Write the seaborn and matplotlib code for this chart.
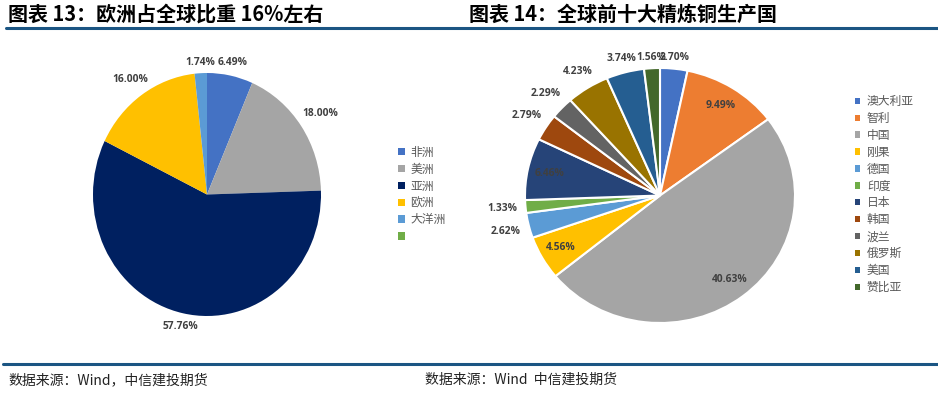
import numpy as np
import pandas as pd
import matplotlib
matplotlib.use("Agg")
import matplotlib.pyplot as plt
import seaborn as sns
from matplotlib.patches import Patch
from matplotlib.lines import Line2D

# ---------------- data ----------------
regions = ["非洲", "美洲", "亚洲", "欧洲", "大洋洲", ""]
region_share = [6.49, 18.00, 57.76, 16.00, 1.74, 0.0]
region_colors = ["#4472C4", "#A5A5A5", "#002060", "#FFC000", "#5B9BD5", "#70AD47"]

countries = ["澳大利亚", "智利", "中国", "刚果", "德国", "印度",
             "日本", "韩国", "波兰", "俄罗斯", "美国", "赞比亚"]
country_share = [2.70, 9.49, 40.63, 4.56, 2.62, 1.33,
                 6.46, 2.79, 2.29, 4.23, 3.74, 1.56]
country_colors = ["#4472C4", "#ED7D31", "#A5A5A5", "#FFC000", "#5B9BD5", "#70AD47",
                  "#264478", "#9E480E", "#636363", "#997300", "#255E91", "#43682B"]
inside_countries = ["智利", "中国", "刚果", "日本"]

title_left = "图表 13：欧洲占全球比重 16%左右"
title_right = "图表 14：全球前十大精炼铜生产国"
source_left = "数据来源：Wind，中信建投期货"
source_right = "数据来源：Wind  中信建投期货"

df_reg = pd.DataFrame({"name": regions, "share": region_share})
df_cty = pd.DataFrame({"name": countries, "share": country_share})

# ---------------- style ----------------
sns.set_theme(style="white")
plt.rcParams["font.family"] = ["Noto Sans CJK SC", "DejaVu Sans"]

W, H, DPI = 938, 393, 100
fig = plt.figure(figsize=(W / DPI, H / DPI), dpi=DPI)
fig.patch.set_facecolor("white")

RULE = "#1B5583"
LABEL_C = "#404040"
LEG_C = "#595959"


def px_axes(x0, y0, x1, y1):
    return fig.add_axes([x0 / W, 1 - y1 / H, (x1 - x0) / W, (y1 - y0) / H])


def draw_pie(ax, df, colors, rx, ry, inside=(), edge=None, lw_box=38, lh_box=11, gap=4, r_in=0.84):
    wp = {"linewidth": 1.5, "edgecolor": "white"} if edge else {"linewidth": 0}
    wedges, _ = ax.pie(df["share"], colors=colors, startangle=90, counterclock=False,
                       wedgeprops=wp, normalize=True)
    ax.set_aspect("auto")
    ax.set_xlim(-1, 1)
    ax.set_ylim(-1, 1)
    ax.axis("off")
    for w, name, v in zip(wedges, df["name"], df["share"]):
        if v <= 0:
            continue
        th = np.deg2rad((w.theta1 + w.theta2) / 2)
        c, s = np.cos(th), np.sin(th)
        if name in inside:
            x, y = r_in * c, r_in * s
        else:
            ext = abs(c) * lw_box / 2 + abs(s) * lh_box / 2 + gap
            x = c + ext * c / rx
            y = s + ext * s / ry
        ax.text(x, y, f"{v:.2f}%", ha="center", va="center", fontsize=7.4,
                fontweight="bold", color=LABEL_C, family=["Open Sans", "DejaVu Sans"],
                clip_on=False, zorder=5)
    return wedges


# left pie
axL = px_axes(93, 73, 321, 316)
draw_pie(axL, df_reg, region_colors, rx=114, ry=121.5)
hL = [Patch(facecolor=c, edgecolor="none") for c in region_colors]
legL = fig.legend(hL, regions, loc="center left", bbox_to_anchor=(398 / W, 1 - 194.5 / H),
                  bbox_transform=fig.transFigure, frameon=False, fontsize=8.5,
                  handlelength=0.6, handleheight=0.6, handletextpad=0.45,
                  labelspacing=0.33, borderpad=0, borderaxespad=0)
for t in legL.get_texts():
    t.set_color(LEG_C)

# right pie
axR = px_axes(525, 68, 795, 323)
draw_pie(axR, df_cty, country_colors, rx=135, ry=127.5, inside=inside_countries, edge=True)
hR = [Patch(facecolor=c, edgecolor="none") for c in country_colors]
legR = fig.legend(hR, countries, loc="center left", bbox_to_anchor=(855 / W, 1 - 194.5 / H),
                  bbox_transform=fig.transFigure, frameon=False, fontsize=8.5,
                  handlelength=0.45, handleheight=0.45, handletextpad=0.55,
                  labelspacing=0.33, borderpad=0, borderaxespad=0)
for t in legR.get_texts():
    t.set_color(LEG_C)

# titles
fig.text(8 / W, 1 - 21 / H, title_left, fontsize=14.4, fontweight="bold", color="black",
         va="baseline", ha="left")
fig.text(469 / W, 1 - 21 / H, title_right, fontsize=14.4, fontweight="bold", color="black",
         va="baseline", ha="left")

# rules
fig.add_artist(Line2D([6 / W, 1.0], [1 - 27.5 / H] * 2, color=RULE, lw=2.2))
fig.add_artist(Line2D([3 / W, 1.0], [1 - 363.5 / H] * 2, color=RULE, lw=2.2))

# sources
fig.text(8 / W, 1 - 380 / H, source_left, fontsize=10, style="italic", color="#222222",
         va="center", ha="left")
fig.text(425 / W, 1 - 380 / H, source_right, fontsize=10, style="italic", color="#222222",
         va="center", ha="left")

fig.savefig("out.png", dpi=DPI, facecolor="white")
